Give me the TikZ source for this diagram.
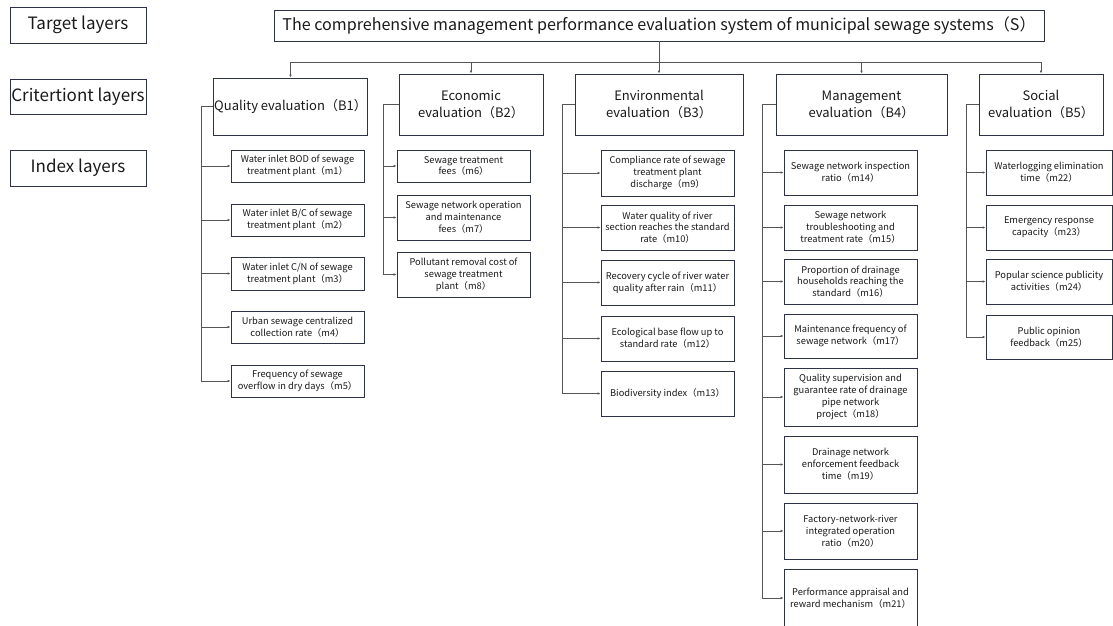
\documentclass[tikz,border=0pt]{standalone}
\usepackage{fontspec}
\setmainfont{Noto Sans CJK SC}
\usetikzlibrary{arrows.meta}
\definecolor{boxline}{RGB}{45,50,70}
\definecolor{linkgray}{RGB}{85,85,85}
\tikzset{
  box/.style={draw=boxline, line width=0.9pt, inner sep=1pt, align=center, text=black!90},
  layer/.style={box, font=\fontsize{17}{20}\selectfont},
  title/.style={box, font=\fontsize{16.1}{19}\selectfont},
  crit/.style={box, font=\fontsize{13}{17}\selectfont},
  idx/.style={box, font=\fontsize{9.3}{11.8}\selectfont},
  link/.style={draw=linkgray, line width=0.9pt},
  arr/.style={link, -{Latex[length=3pt,width=2.6pt]}}
}
\begin{document}
\begin{tikzpicture}[x=1pt,y=-1pt]
    \useasboundingbox (0,0) rectangle (1113,625);
    \node[layer, minimum width=136, minimum height=36] (target) at (78,25) {Target layers};
    \node[layer, minimum width=136, minimum height=35] (criterion) at (78,96.5) {Critertiont layers};
    \node[layer, minimum width=136, minimum height=36] (index) at (78,168) {Index layers};
    \node[title, minimum width=770, minimum height=31] (S) at (659,25.5) {The comprehensive management performance evaluation system of municipal sewage systems（S）};
    \node[crit, minimum width=153, minimum height=57] (B1) at (290.5,106.5) {Quality evaluation（B1）};
    \node[crit, minimum width=144, minimum height=61] (B2) at (471,104.5) {Economic\\evaluation（B2）};
    \node[crit, minimum width=168, minimum height=61] (B3) at (659,104.5) {Environmental\\evaluation（B3）};
    \node[crit, minimum width=171, minimum height=61] (B4) at (861.5,104.5) {Management\\evaluation（B4）};
    \node[crit, minimum width=124, minimum height=61] (B5) at (1041,104.5) {Social\\evaluation（B5）};
    \node[idx, minimum width=133, minimum height=32] (m1) at (297.5,166) {Water inlet BOD of sewage\\treatment plant（m1）};
    \node[idx, minimum width=133, minimum height=32] (m2) at (297.5,220) {Water inlet B/C of sewage\\treatment plant（m2）};
    \node[idx, minimum width=133, minimum height=33] (m3) at (297.5,273.5) {Water inlet C/N of sewage\\treatment plant（m3）};
    \node[idx, minimum width=133, minimum height=32] (m4) at (297.5,327) {Urban sewage centralized\\collection rate（m4）};
    \node[idx, minimum width=133, minimum height=32] (m5) at (297.5,381) {Frequency of sewage\\overflow in dry days（m5）};
    \node[idx, minimum width=133, minimum height=32] (m6) at (463.5,166) {Sewage treatment\\fees（m6）};
    \node[idx, minimum width=133, minimum height=45] (m7) at (463.5,217.5) {Sewage network operation\\and maintenance\\fees（m7）};
    \node[idx, minimum width=133, minimum height=45] (m8) at (463.5,274.5) {Pollutant removal cost of\\sewage treatment\\plant（m8）};
    \node[idx, minimum width=133, minimum height=46] (m9) at (667.5,173) {Compliance rate of sewage\\treatment plant\\discharge（m9）};
    \node[idx, minimum width=133, minimum height=45] (m10) at (667.5,227.5) {Water quality of river\\section reaches the standard\\rate（m10）};
    \node[idx, minimum width=133, minimum height=45] (m11) at (667.5,282.5) {Recovery cycle of river water\\quality after rain（m11）};
    \node[idx, minimum width=133, minimum height=45] (m12) at (667.5,338.5) {Ecological base flow up to\\standard rate（m12）};
    \node[idx, minimum width=133, minimum height=45] (m13) at (667.5,393.5) {Biodiversity index（m13）};
    \node[idx, minimum width=133, minimum height=45] (m14) at (850.5,172.5) {Sewage network inspection\\ratio（m14）};
    \node[idx, minimum width=133, minimum height=45] (m15) at (850.5,227.5) {Sewage network\\troubleshooting and\\treatment rate（m15）};
    \node[idx, minimum width=133, minimum height=45] (m16) at (850.5,281.5) {Proportion of drainage\\households reaching the\\standard（m16）};
    \node[idx, minimum width=133, minimum height=44] (m17) at (850.5,336) {Maintenance frequency of\\sewage network（m17）};
    \node[idx, minimum width=133, minimum height=58] (m18) at (850.5,397) {Quality supervision and\\guarantee rate of drainage\\pipe network\\project（m18）};
    \node[idx, minimum width=133, minimum height=57] (m19) at (850.5,464.5) {Drainage network\\enforcement feedback\\time（m19）};
    \node[idx, minimum width=133, minimum height=56] (m20) at (850.5,531) {Factory-network-river\\integrated operation\\ratio（m20）};
    \node[idx, minimum width=133, minimum height=58] (m21) at (850.5,598) {Performance appraisal and\\reward mechanism（m21）};
    \node[idx, minimum width=126, minimum height=45] (m22) at (1049,172.5) {Waterlogging elimination\\time（m22）};
    \node[idx, minimum width=126, minimum height=45] (m23) at (1049,227.5) {Emergency response\\capacity（m23）};
    \node[idx, minimum width=126, minimum height=45] (m24) at (1049,281.5) {Popular science publicity\\activities（m24）};
    \node[idx, minimum width=126, minimum height=44] (m25) at (1049,337) {Public opinion\\feedback（m25）};
    \coordinate (bus) at (659,62);
    \draw[link] (S.south) -- (S.south |- bus);
    \foreach \b in {B1,B2,B3,B4,B5}
        \draw[arr] (S.south |- bus) -| (\b.north);
    \foreach \m in {m1,m2,m3,m4,m5}
        \draw[arr] (B1.west) -- ++(-11,0) |- (\m.west);
    \foreach \m in {m6,m7,m8}
        \draw[arr] (B2.west) -- ++(-15,0) |- (\m.west);
    \foreach \m in {m9,m10,m11,m12,m13}
        \draw[arr] (B3.west) -- ++(-12,0) |- (\m.west);
    \foreach \m in {m14,m15,m16,m17,m18,m19,m20,m21}
        \draw[arr] (B4.west) -- ++(-13,0) |- (\m.west);
    \foreach \m in {m22,m23,m24,m25}
        \draw[arr] (B5.west) -- ++(-12,0) |- (\m.west);
\end{tikzpicture}
\end{document}
